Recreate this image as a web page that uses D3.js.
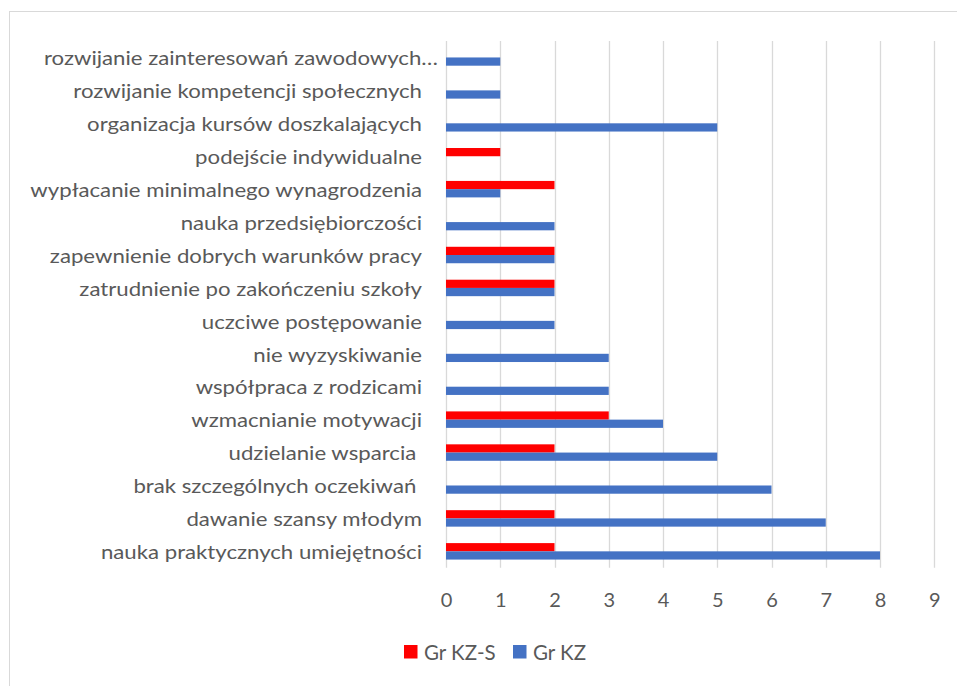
<!DOCTYPE html>
<html>
<head>
<meta charset="utf-8">
<script src="https://cdn.jsdelivr.net/npm/d3@7"></script>
<style>
  html, body { margin: 0; padding: 0; background: #fff; }
  svg { display: block; }
  text { font-family: Lato, "Open Sans", sans-serif; fill: #595959; }
</style>
</head>
<body>
<svg id="chart" width="957" height="686"></svg>
<script>
const categories = [
  "rozwijanie zainteresowań zawodowych…",
  "rozwijanie kompetencji społecznych",
  "organizacja kursów doszkalających",
  "podejście indywidualne",
  "wypłacanie minimalnego wynagrodzenia",
  "nauka przedsiębiorczości",
  "zapewnienie dobrych warunków pracy",
  "zatrudnienie po zakończeniu szkoły",
  "uczciwe postępowanie",
  "nie wyzyskiwanie",
  "współpraca z rodzicami",
  "wzmacnianie motywacji",
  "udzielanie wsparcia ",
  "brak szczególnych oczekiwań ",
  "dawanie szansy młodym",
  "nauka praktycznych umiejętności"
];
const seriesNames = ["Gr KZ-S", "Gr KZ"];
const grKZS = [0, 0, 0, 1, 2, 0, 2, 2, 0, 0, 0, 3, 2, 0, 2, 2];
const grKZ  = [1, 1, 5, 0, 1, 2, 2, 2, 2, 3, 3, 4, 5, 6, 7, 8];
const xTicks = [0, 1, 2, 3, 4, 5, 6, 7, 8, 9];
const colors = ["#ff0000", "#4472c4"];

(function () {
const svg = d3.select("#chart");

// chart border
svg.append("rect")
  .attr("x", 9.5).attr("y", 11.5)
  .attr("width", 960).attr("height", 690)
  .attr("fill", "none").attr("stroke", "#d9d9d9").attr("stroke-width", 1);

const pLeft = 446, pRight = 934.25, pTop = 41, pBottom = 567.8;

const x = d3.scaleLinear().domain([0, 9]).range([pLeft, pRight]);
const y = d3.scaleBand().domain(categories).range([pTop, pBottom]).paddingInner(0.5).paddingOuter(0.25);
const ySub = d3.scaleBand().domain(seriesNames).range([0, y.bandwidth()]);

// gridlines
svg.append("g").selectAll("line").data(xTicks).join("line")
  .attr("x1", d => Math.round(x(d)) + 0.5).attr("x2", d => Math.round(x(d)) + 0.5)
  .attr("y1", pTop).attr("y2", pBottom)
  .attr("stroke", "#d9d9d9").attr("stroke-width", 1.3);

// bars
const data = categories.map((c, i) => ({ c, vals: [grKZS[i], grKZ[i]] }));
const groups = svg.append("g").selectAll("g").data(data).join("g")
  .attr("transform", d => `translate(0,${y(d.c)})`);
groups.selectAll("rect").data(d => d.vals.map((v, j) => ({ v, s: seriesNames[j], j })))
  .join("rect")
  .attr("x", x(0))
  .attr("y", d => ySub(d.s))
  .attr("width", d => x(d.v) - x(0))
  .attr("height", ySub.bandwidth())
  .attr("fill", d => colors[d.j]);

// category labels (horizontally stretched to mimic the reference's wide rendering)
const labelScaleX = 1.2;
svg.append("g").selectAll("text").data(categories).join("text")
  .attr("transform", d => `translate(${d.endsWith("…") ? 438 : 422},${y(d) + y.bandwidth() / 2}) scale(${labelScaleX},1)`)
  .attr("dy", "0.42em")
  .attr("text-anchor", "end")
  .attr("font-size", 18.5)
  .style("white-space", "pre")
  .text(d => d);

// x axis
const xAxis = d3.axisBottom(x).tickValues(xTicks).tickSize(0).tickPadding(0);
const ax = svg.append("g").attr("transform", `translate(0,${pBottom})`).call(xAxis);
ax.select(".domain").remove();
ax.selectAll("text")
  .attr("y", 31.7)
  .attr("dy", "0.36em")
  .attr("font-size", 20)
  .style("fill", "#595959")
  .style("font-family", "Lato, 'Open Sans', sans-serif");

// legend
const legend = svg.append("g");
const legendX = [404, 513];
seriesNames.forEach((s, i) => {
  legend.append("rect").attr("x", legendX[i]).attr("y", 645).attr("width", 13.5).attr("height", 13.5).attr("fill", colors[i]);
  legend.append("text").attr("x", legendX[i] + 20).attr("y", 652).attr("dy", "0.37em").attr("font-size", 20.5).text(s);
});
})();
</script>
</body>
</html>
